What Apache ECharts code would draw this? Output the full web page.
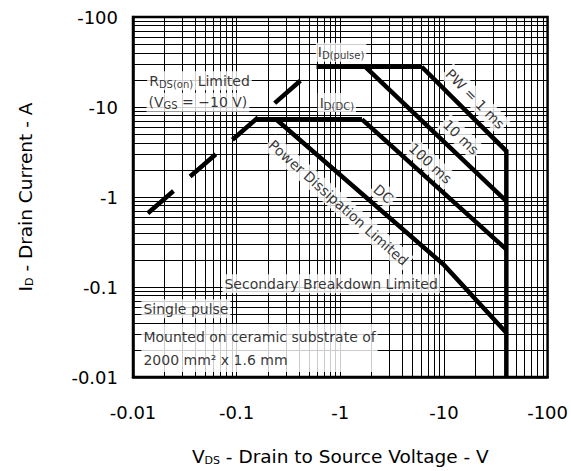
<!DOCTYPE html>
<html>
<head>
<meta charset="utf-8">
<script src="https://cdn.jsdelivr.net/npm/echarts@6/dist/echarts.min.js"></script>
<style>
  html, body { margin: 0; padding: 0; background: #fff; }
  #chart { width: 571px; height: 471px; }
</style>
</head>
<body>
<div id="chart"></div>
<script>
// Decade ticks and their printed labels (magnitudes are plotted, signs printed)
const vdsTicks = [0.01, 0.1, 1, 10, 100];
const vdsTickLabels = ['-0.01', '-0.1', '-1', '-10', '-100'];
const idTicks = [0.01, 0.1, 1, 10, 100];
const idTickLabels = ['-0.01', '-0.1', '-1', '-10', '-100'];

// Safe operating area boundaries: [|VDS| (V), |ID| (A)]
const rdsOnLimit = [[0.0139, 0.66], [0.59, 28]];
const idPulseLimit = [[0.59, 28], [6.1, 28]];
const idDcLimit = [[0.154, 7.3], [1.62, 7.3]];
const pw1ms = [[6.1, 28], [40, 3.24], [40, 0.01]];
const pw10ms = [[1.745, 28], [40, 0.9]];
const pw100ms = [[1.62, 7.3], [40, 0.262]];
const dcLimit = [[0.24, 7.3], [10, 0.176], [40, 0.031]];

const FONT = 'DejaVu Sans';

// Log-paper minor grid: 2..9 within every decade
const minorGrid = [];
for (let e = -2; e < 2; e++) {
  for (let m = 2; m <= 9; m++) minorGrid.push(+(m * Math.pow(10, e)).toPrecision(3));
}

function tickLabel(labels) {
  return function (v) { return labels[Math.round(Math.log10(v)) + 2]; };
}

function boundary(name, data, dash) {
  return {
    type: 'line', name: name, data: data, symbol: 'none', silent: true, z: 5,
    animation: false, clip: true,
    lineStyle: { color: '#000', width: 4.5, cap: 'butt', join: 'miter', type: dash || 'solid' }
  };
}

const txt = { fontFamily: FONT, fontSize: 14, color: '#000' };
const sub = { fontFamily: FONT, fontSize: 10, color: '#000', verticalAlign: 'bottom' };

// Annotations, anchored in data space
const notes = [
  { at: [1.017, 40.7], text: '{m|I}{s|D(pulse)}' },
  { at: [0.0438, 19.6], text: '{m|R}{s|DS(on)}{m| Limited}' },
  { at: [0.0423, 11.3], text: '{m|(V}{s|GS}{m| = \u221210 V)}' },
  { at: [0.927, 11.2], text: '{m|I}{s|D(DC)}' },
  { at: [20.0, 12.3], text: '{m|PW = 1 ms}', rotate: -45.5 },
  { at: [14.6, 4.63], text: '{m|10 ms}', rotate: -44 },
  { at: [7.41, 2.36], text: '{m|100 ms}', rotate: -42.5 },
  { at: [2.60, 1.084], text: '{m|DC}', rotate: -41 },
  { at: [0.962, 0.862], text: '{m|Power Dissipation Limited}', rotate: -41.5 },
  { at: [0.816, 0.109], text: '{m|Secondary Breakdown Limited}' },
  { at: [0.01206, 0.0574], text: '{m|Single pulse}', align: 'left' },
  { at: [0.01206, 0.0210], text: '{t|Mounted on ceramic substrate of}\n{t|2000 mm\u00b2 x 1.6 mm}', align: 'left' }
];

const noteData = notes.map(function (n) {
  return {
    value: n.at,
    label: {
      show: true,
      position: 'inside',
      formatter: n.text,
      rotate: n.rotate || 0,
      align: n.align || 'center',
      verticalAlign: 'middle',
      backgroundColor: '#fff',
      padding: [1, 2, 1, 2],
      rich: {
        m: Object.assign({}, txt, { lineHeight: 17 }),
        s: sub,
        t: Object.assign({}, txt, { lineHeight: 23 })
      }
    }
  };
});

const chart = echarts.init(document.getElementById('chart'), null, { renderer: 'svg' });

chart.setOption({
  animation: false,
  backgroundColor: '#fff',
  grid: {
    left: 133, right: 21, top: 17, bottom: 88,
    show: true, borderColor: '#000', borderWidth: 2.5, backgroundColor: 'transparent'
  },
  xAxis: {
    type: 'log', logBase: 10, min: vdsTicks[0], max: vdsTicks[vdsTicks.length - 1],
    axisLine: { show: true, onZero: false, lineStyle: { color: '#000', width: 2.5 } },
    axisTick: { show: false },
    splitLine: { show: true, lineStyle: { color: '#000', width: 1 } },
    axisLabel: { margin: 26, color: '#000', fontFamily: FONT, fontSize: 18, formatter: tickLabel(vdsTickLabels) },
    name: '{m|V}{s|DS}{m| - Drain to Source Voltage - V}',
    nameLocation: 'middle', nameGap: 70,
    nameTextStyle: {
      rich: {
        m: { fontFamily: FONT, fontSize: 18.5, color: '#000' },
        s: { fontFamily: FONT, fontSize: 11, color: '#000', verticalAlign: 'bottom' }
      }
    }
  },
  yAxis: {
    type: 'log', logBase: 10, min: idTicks[0], max: idTicks[idTicks.length - 1],
    axisLine: { show: true, onZero: false, lineStyle: { color: '#000', width: 2.5 } },
    axisTick: { show: false },
    splitLine: { show: true, lineStyle: { color: '#000', width: 1 } },
    axisLabel: { margin: 15, color: '#000', fontFamily: FONT, fontSize: 18, formatter: tickLabel(idTickLabels) },
    name: '{m|I}{s|D}{m| - Drain Current - A}',
    nameLocation: 'middle', nameGap: 98,
    nameTextStyle: {
      rich: {
        m: { fontFamily: FONT, fontSize: 18.5, color: '#000' },
        s: { fontFamily: FONT, fontSize: 11, color: '#000', verticalAlign: 'bottom' }
      }
    }
  },
  series: [
    {
      type: 'line', name: 'grid', data: [[0.01, 0.01]], symbol: 'none', silent: true, z: 1,
      animation: false,
      markLine: {
        silent: true, symbol: ['none', 'none'], animation: false,
        label: { show: false },
        lineStyle: { color: '#000', width: 1, type: 'solid' },
        emphasis: { disabled: true },
        data: minorGrid.map(function (v) { return { xAxis: v }; })
          .concat(minorGrid.map(function (v) { return { yAxis: v }; }))
      }
    },
    boundary('RDS(on) limit', rdsOnLimit, [34, 22]),
    boundary('ID(pulse)', idPulseLimit),
    boundary('ID(DC)', idDcLimit),
    boundary('PW = 1 ms', pw1ms),
    boundary('PW = 10 ms', pw10ms),
    boundary('PW = 100 ms', pw100ms),
    boundary('DC', dcLimit),
    {
      type: 'scatter', name: 'notes', data: noteData, symbolSize: 0, silent: true, z: 10,
      animation: false, itemStyle: { color: 'transparent' }
    }
  ]
});
</script>
</body>
</html>
